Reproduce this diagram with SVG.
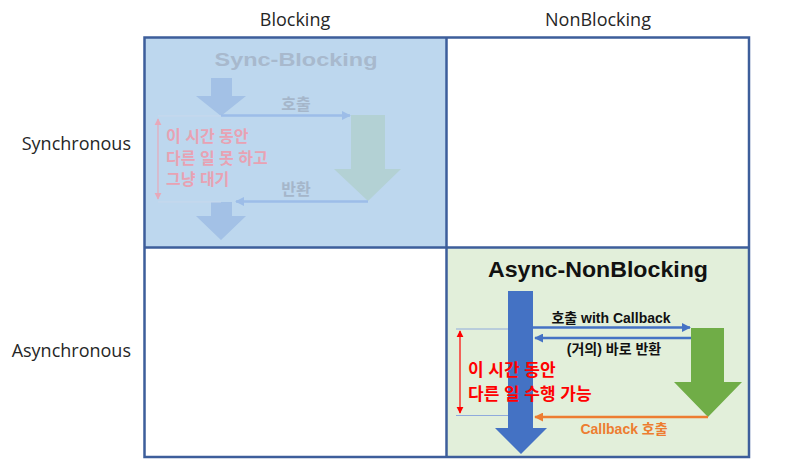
<svg xmlns="http://www.w3.org/2000/svg" width="797" height="470" viewBox="0 0 797 470">
  <style>
    .hdr { font-family: "Open Sans", "Noto Sans", sans-serif; font-size: 18px; fill: #262626; }
    .ttl { font-family: "Liberation Sans", "Noto Sans CJK KR", sans-serif; font-weight: bold; }
    .kr { font-family: "Liberation Sans", "Noto Sans CJK KR", sans-serif; font-weight: bold; }
    .grid { fill: none; stroke: #3D5E9B; stroke-width: 2.5; }
  </style>
  <defs>
    <marker id="mBlue" viewBox="0 0 10 10" refX="9" refY="5" markerWidth="3.6" markerHeight="3.6" orient="auto-start-reverse" markerUnits="strokeWidth">
      <path d="M0,0 L10,5 L0,10 z" fill="#4472C4"/>
    </marker>
    <marker id="mOrange" viewBox="0 0 10 10" refX="9" refY="5" markerWidth="3.6" markerHeight="3.6" orient="auto-start-reverse" markerUnits="strokeWidth">
      <path d="M0,0 L10,5 L0,10 z" fill="#ED7D31"/>
    </marker>
    <marker id="mRed" viewBox="0 0 10 10" refX="9" refY="5" markerWidth="6" markerHeight="6" orient="auto-start-reverse" markerUnits="strokeWidth">
      <path d="M0,0 L10,5 L0,10 z" fill="#FF0000"/>
    </marker>
    <marker id="mFBlue" viewBox="0 0 10 10" refX="9" refY="5" markerWidth="3.6" markerHeight="3.6" orient="auto-start-reverse" markerUnits="strokeWidth">
      <path d="M0,0 L10,5 L0,10 z" fill="#9DBDE8"/>
    </marker>
    <marker id="mFRed" viewBox="0 0 10 10" refX="9" refY="5" markerWidth="6" markerHeight="6" orient="auto-start-reverse" markerUnits="strokeWidth">
      <path d="M0,0 L10,5 L0,10 z" fill="#E7A9BA"/>
    </marker>
  </defs>

  <rect width="797" height="470" fill="#FFFFFF"/>

  <g id="labels">
    <text class="hdr" x="295" y="26" text-anchor="middle">Blocking</text>
    <text class="hdr" x="598" y="26" text-anchor="middle">NonBlocking</text>
    <text class="hdr" x="131" y="150" text-anchor="end">Synchronous</text>
    <text class="hdr" x="131" y="357" text-anchor="end">Asynchronous</text>
  </g>

  <g id="cell-sync-blocking">
    <rect x="145" y="37.5" width="301.5" height="210" fill="#BDD7EE"/>
    <text class="ttl" x="296" y="66" text-anchor="middle" font-size="18" textLength="163" lengthAdjust="spacingAndGlyphs" fill="#A8B9CD">Sync-Blocking</text>
    <polygon points="211,78 232,78 232,96 246,96 221,116 196,96 211,96" fill="#A3C1E6"/>
    <polygon points="351,115 385,115 385,169 401,169 368,201 334,169 351,169" fill="#B3D1D4"/>
    <polygon points="211,202 232,202 232,216 246,216 221,240 196,216 211,216" fill="#A3C1E6"/>
    <line x1="158" y1="116" x2="221" y2="116" stroke="#C8D8EC" stroke-width="1"/>
    <line x1="158" y1="202" x2="221" y2="202" stroke="#C8D8EC" stroke-width="1"/>
    <text class="kr" x="296" y="110" text-anchor="middle" font-size="16" fill="#A5B6CA">호출</text>
    <text class="kr" x="296" y="195" text-anchor="middle" font-size="16" fill="#A5B6CA">반환</text>
    <text class="kr" x="166" y="142" font-size="16" fill="#E8A2B3">이 시간 동안</text>
    <text class="kr" x="166" y="164" font-size="16" fill="#E8A2B3">다른 일 못 하고</text>
    <text class="kr" x="166" y="185" font-size="16" fill="#E8A2B3">그냥 대기</text>
  </g>

  <g id="cell-async-nonblocking">
    <rect x="446.5" y="247.5" width="302.5" height="209.5" fill="#E2EFDA"/>
    <text class="ttl" x="598" y="277" text-anchor="middle" font-size="22" textLength="220" lengthAdjust="spacingAndGlyphs" fill="#111111">Async-NonBlocking</text>
    <line x1="456" y1="329" x2="510" y2="329" stroke="#8FAADC" stroke-width="1"/>
    <line x1="456" y1="415.5" x2="510" y2="415.5" stroke="#8FAADC" stroke-width="1"/>
    <polygon points="508,291 533,291 533,428 547,428 521,454 495,428 508,428" fill="#4472C4"/>
    <polygon points="691,328 724,328 724,382 742,382 708,417 674,382 691,382" fill="#70AD47"/>
    <text class="kr" x="611" y="323" text-anchor="middle" font-size="14" fill="#111111">호출 with Callback</text>
    <text class="kr" x="614" y="354" text-anchor="middle" font-size="14" fill="#111111">(거의) 바로 반환</text>
    <text class="kr" x="624" y="434" text-anchor="middle" font-size="14" fill="#ED7D31">Callback 호출</text>
    <text class="kr" x="468" y="376" font-size="17" fill="#FF0000">이 시간 동안</text>
    <text class="kr" x="468" y="400" font-size="17" fill="#FF0000">다른 일 수행 가능</text>
  </g>

  <g id="grid">
    <rect class="grid" x="144.5" y="37.5" width="604.5" height="419.5"/>
    <line class="grid" x1="446.5" y1="37.5" x2="446.5" y2="457"/>
    <line class="grid" x1="144.5" y1="247.5" x2="749" y2="247.5"/>
  </g>

  <g id="connectors" fill="none">
    <line x1="221" y1="115.5" x2="350" y2="115.5" stroke="#9DBDE8" stroke-width="2.5" marker-end="url(#mFBlue)"/>
    <line x1="368" y1="201.5" x2="236" y2="201.5" stroke="#9DBDE8" stroke-width="2.5" marker-end="url(#mFBlue)"/>
    <line x1="158" y1="119" x2="158" y2="199" stroke="#E7A9BA" stroke-width="1.2" marker-start="url(#mFRed)" marker-end="url(#mFRed)"/>
    <line x1="533" y1="327.5" x2="690" y2="327.5" stroke="#4472C4" stroke-width="2.5" marker-end="url(#mBlue)"/>
    <line x1="691" y1="338" x2="535" y2="338" stroke="#4472C4" stroke-width="2.5" marker-end="url(#mBlue)"/>
    <line x1="708" y1="417" x2="535" y2="417" stroke="#ED7D31" stroke-width="2.5" marker-end="url(#mOrange)"/>
    <line x1="460" y1="331" x2="460" y2="413" stroke="#FF0000" stroke-width="1.2" marker-start="url(#mRed)" marker-end="url(#mRed)"/>
  </g>
</svg>
